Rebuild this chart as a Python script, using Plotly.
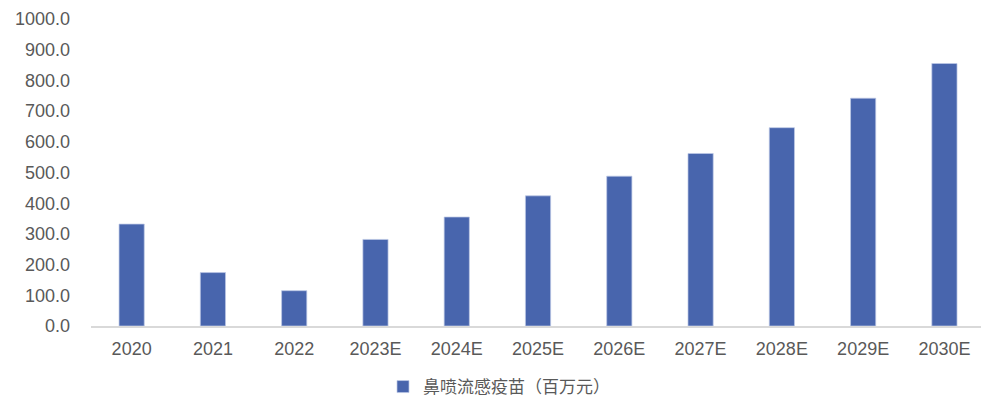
import plotly.graph_objects as go

categories = ["2020", "2021", "2022", "2023E", "2024E", "2025E", "2026E", "2027E", "2028E", "2029E", "2030E"]
values = [332, 174, 115, 282, 355, 424, 488, 562, 646, 742, 855]
series_name = "鼻喷流感疫苗（百万元）"
y_ticks = [0, 100, 200, 300, 400, 500, 600, 700, 800, 900, 1000]
y_tick_labels = [f"{v:.1f}" for v in y_ticks]

fig = go.Figure()
fig.add_trace(go.Bar(
    x=categories, y=values, name=series_name,
    marker=dict(color="#4865AD", line=dict(width=0.8, color="rgba(190,200,230,0.9)")),
    width=0.31,
    showlegend=True,
))

fig.update_layout(
    width=981, height=401,
    margin=dict(l=91, r=0, t=19, b=75, autoexpand=False),
    paper_bgcolor="white", plot_bgcolor="white",
    font=dict(family="Liberation Sans, Arial, sans-serif", size=18, color="#595959"),
    showlegend=True,
    legend=dict(
        orientation="h", xref="container", yref="container",
        x=383 / 981, xanchor="left", y=14 / 401, yanchor="middle",
        font=dict(family="Noto Sans CJK SC, sans-serif", size=17, color="#595959"),
        bgcolor="rgba(0,0,0,0)", borderwidth=0,
    ),
    xaxis=dict(
        type="category", range=[-0.5, 10.45], automargin=False,
        showline=True, linecolor="#D9D9D9", linewidth=1.5,
        showgrid=False, ticks="", ticklabelstandoff=6,
        tickfont=dict(size=18, color="#595959"),
    ),
    yaxis=dict(
        range=[0, 1000], tickvals=y_ticks, ticktext=y_tick_labels, automargin=False,
        showgrid=False, zeroline=False, showline=False, ticks="",
        ticklabelstandoff=20,
        tickfont=dict(size=18, color="#595959"),
    ),
)

fig.write_html("out.html")
